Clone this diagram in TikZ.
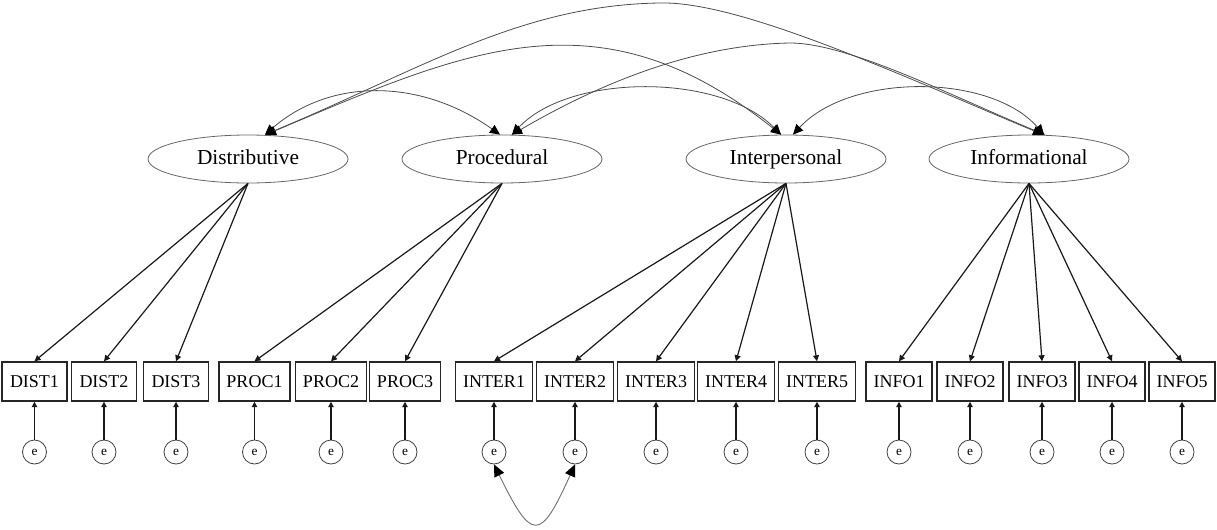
\documentclass[tikz,border=0pt]{standalone}
\usepackage{fontspec}
\setmainfont{Liberation Serif}
\usetikzlibrary{arrows.meta,calc,shapes.geometric}
\begin{document}
\begin{tikzpicture}[x=0.75pt,y=-0.75pt,
  lat/.style={ellipse,draw=black!60,line width=0.6pt,minimum width=150pt,minimum height=36pt,inner sep=0pt,text height=11pt,text depth=3.5pt,font=\fontsize{16}{18}\selectfont},
  obs/.style={draw=black!85,line width=1.1pt,minimum height=29.25pt,inner sep=0pt,text height=9.5pt,text depth=0pt,font=\fontsize{13.5}{15}\selectfont},
  dist/.style={obs,minimum width=48.75pt},
  proc/.style={obs,minimum width=53.25pt},
  inter/.style={obs,minimum width=57.75pt},
  info/.style={obs,minimum width=49.5pt},
  err/.style={circle,draw=black!75,line width=0.6pt,minimum size=18pt,inner sep=0pt,font=\fontsize{10}{11}\selectfont},
  load/.style={black!90,line width=0.9pt,-{Triangle[length=4.5pt,width=4.5pt]}},
  eload/.style={black!90,line width=0.9pt,-{Triangle[length=4pt,width=4pt]}},
  cov/.style={black!70,line width=0.6pt,{Triangle[length=7.5pt,width=7pt,color=black]}-{Triangle[length=7.5pt,width=7pt,color=black]}},
  covb/.style={black!55,line width=0.7pt,{Triangle[length=9pt,width=8pt,color=black]}-{Triangle[length=9pt,width=8pt,color=black]}}]
\useasboundingbox (0,0) rectangle (1217,529);
% latent variables
\node[lat] (D) at (248,159) {Distributive};
\node[lat] (P) at (502,159) {Procedural};
\node[lat] (I) at (786,159) {Interpersonal};
\node[lat] (F) at (1029,159) {Informational};
% observed variables
\node[dist] (d1) at (34.5,381.5) {DIST1};
\node[dist] (d2) at (104,381.5) {DIST2};
\node[dist] (d3) at (176,381.5) {DIST3};
\node[proc] (p1) at (254.5,381.5) {PROC1};
\node[proc] (p2) at (331,381.5) {PROC2};
\node[proc] (p3) at (405,381.5) {PROC3};
\node[inter] (i1) at (494,381.5) {INTER1};
\node[inter] (i2) at (575,381.5) {INTER2};
\node[inter] (i3) at (656,381.5) {INTER3};
\node[inter] (i4) at (736,381.5) {INTER4};
\node[inter] (i5) at (817,381.5) {INTER5};
\node[info] (f1) at (899,381.5) {INFO1};
\node[info] (f2) at (970,381.5) {INFO2};
\node[info] (f3) at (1042,381.5) {INFO3};
\node[info] (f4) at (1112,381.5) {INFO4};
\node[info] (f5) at (1182,381.5) {INFO5};
% error terms
\foreach \n/\x in {d1/34.5,d2/104,d3/176,p1/254.5,p2/331,p3/405,i1/494,i2/575,i3/656,i4/736,i5/817,f1/899,f2/970,f3/1042,f4/1112,f5/1182}{
  \node[err] (e\n) at (\x,452) {e};
  \draw[eload] (e\n) -- (\n.south);
}
% loadings
\foreach \n in {d1,d2,d3}{\draw[load] (D.south) -- (\n.north);}
\foreach \n in {p1,p2,p3}{\draw[load] (P.south) -- (\n.north);}
\foreach \n in {i1,i2,i3,i4,i5}{\draw[load] (I.south) -- (\n.north);}
\foreach \n in {f1,f2,f3,f4,f5}{\draw[load] (F.south) -- (\n.north);}
% covariances
\draw[cov] ($(D.north)+(17,0)$) .. controls (330,78) and (420,78) .. ($(P.north)+(-2,0)$);
\draw[cov] ($(D.north)+(18,0)$) .. controls (470,48) and (600,-10) .. ($(I.north)+(-5,0)$);
\draw[cov] ($(D.north)+(17,0)$) .. controls (420,70) and (520,5) .. (660,3) .. controls (740,1) and (900,75) .. ($(F.north)+(14,0)$);
\draw[cov] ($(P.north)+(10,0)$) .. controls (570,73) and (720,73) .. ($(I.north)+(-5,0)$);
\draw[cov] ($(P.north)+(10,0)$) .. controls (580,95) and (680,45) .. (790,43) .. controls (850,43) and (960,100) .. ($(F.north)+(16,0)$);
\draw[cov] ($(I.north)+(7,0)$) .. controls (850,73) and (990,73) .. ($(F.north)+(15,0)$);
\draw[covb] (ei1.south) .. controls (532,542) and (540,542) .. (ei2.south);
\end{tikzpicture}
\end{document}
